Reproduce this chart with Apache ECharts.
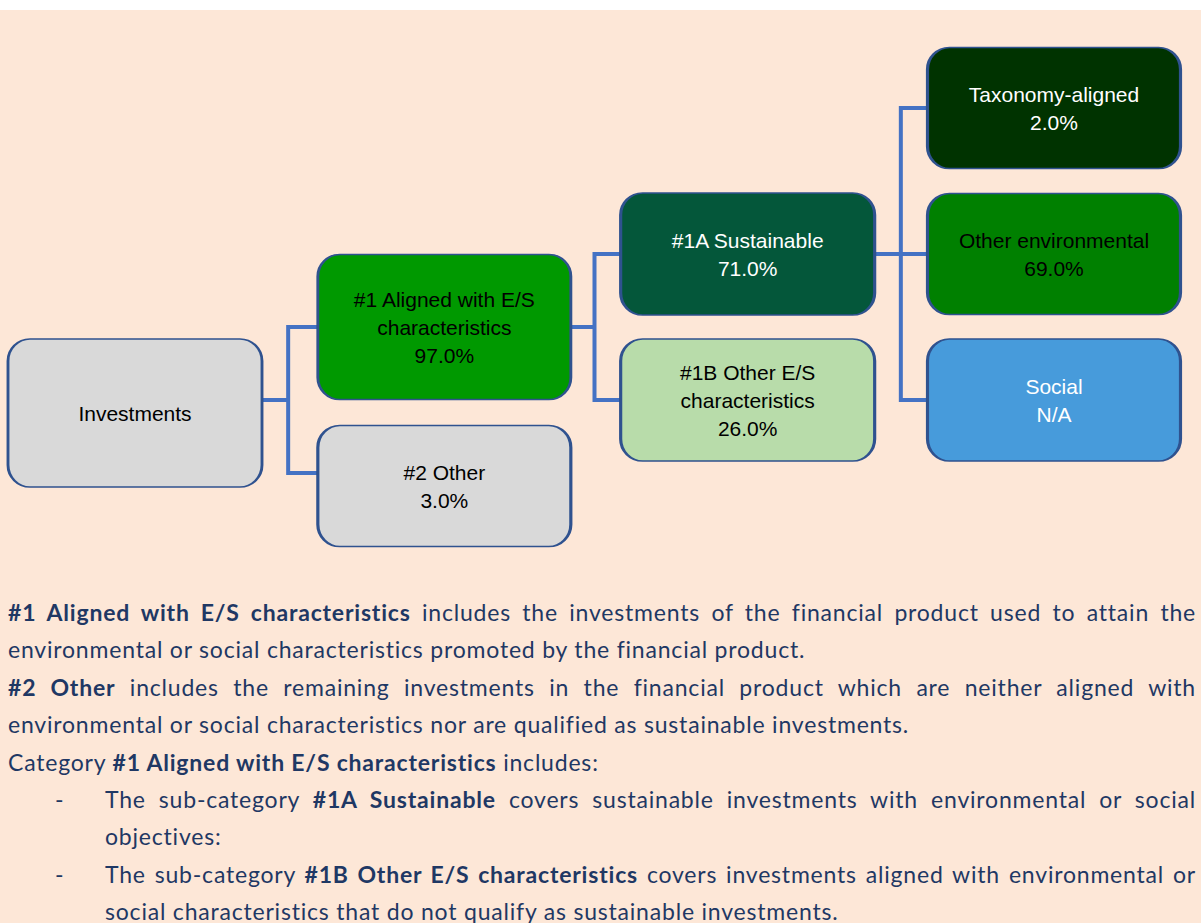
<!DOCTYPE html>
<html>
<head>
<meta charset="utf-8">
<script src="https://cdn.jsdelivr.net/npm/echarts@6/dist/echarts.min.js"></script>
<style>
  html, body { margin: 0; padding: 0; width: 1201px; height: 923px; overflow: hidden; }
  body { background: linear-gradient(#ffffff 0, #ffffff 10px, #fde7d7 10px); position: relative; }
  #chart { position: absolute; left: 0; top: 0; width: 1201px; height: 923px; }
  #notes { position: absolute; left: 8px; top: 594px; width: 1188px; font-family: Lato, "Open Sans", sans-serif;
           font-size: 23px; letter-spacing: 0.8px; line-height: 37.4px; color: #1f3864; }
  #notes .ln { white-space: nowrap; text-align: left; }
  #notes .j { white-space: normal; text-align: justify; text-align-last: justify; }
  #notes .ind { position: relative; padding-left: 97px; }
  #notes .dash { position: absolute; left: 47px; top: 0; }
</style>
</head>
<body>
<div id="chart"></div>
<div id="notes">
  <div class="ln j"><b>#1 Aligned with E/S characteristics</b> includes the investments of the financial product used to attain the</div>
  <div class="ln">environmental or social characteristics promoted by the financial product.</div>
  <div class="ln j"><b>#2 Other</b> includes the remaining investments in the financial product which are neither aligned with</div>
  <div class="ln">environmental or social characteristics nor are qualified as sustainable investments.</div>
  <div class="ln">Category <b>#1 Aligned with E/S characteristics</b> includes:</div>
  <div class="ln j ind"><span class="dash">-</span>The sub-category <b>#1A Sustainable</b> covers sustainable investments with environmental or social</div>
  <div class="ln ind">objectives:</div>
  <div class="ln j ind"><span class="dash">-</span>The sub-category <b>#1B Other E/S characteristics</b> covers investments aligned with environmental or</div>
  <div class="ln ind">social characteristics that do not qualify as sustainable investments.</div>
</div>
<script>
// ---- data ----
const nodeNames = [
  'Investments',
  '#1 Aligned with E/S\ncharacteristics',
  '#2 Other',
  '#1A Sustainable',
  '#1B Other E/S\ncharacteristics',
  'Taxonomy-aligned',
  'Other environmental',
  'Social'
];
const nodeValues = [null, 97.0, 3.0, 71.0, 26.0, 2.0, 69.0, null];   // percent; null = not shown / N/A
const nodeParents = [-1, 0, 0, 1, 1, 3, 3, 3];

// ---- styles (kept separate from data) ----
const fillColors = ['#d9d9d9', '#009900', '#d9d9d9', '#04573a', '#b8dcaa', '#003300', '#008000', '#479bdb'];
const textColors = ['#000', '#000', '#000', '#fff', '#000', '#fff', '#000', '#fff'];
const boxSizes = [[254, 148], [253, 145], [253, 121], [254, 122], [254, 122], [253, 121], [253, 121], [253, 122]];
const boxOffsets = [[0, 13], [3, 0], [3, 13], [0, 0], [0, 0], [0, 0], [0, 0], [0, 0]];

function roundRectPath(w, h, r) {
  return 'path://M' + r + ',0 H' + (w - r) + ' A' + r + ',' + r + ' 0 0 1 ' + w + ',' + r +
    ' V' + (h - r) + ' A' + r + ',' + r + ' 0 0 1 ' + (w - r) + ',' + h +
    ' H' + r + ' A' + r + ',' + r + ' 0 0 1 0,' + (h - r) +
    ' V' + r + ' A' + r + ',' + r + ' 0 0 1 ' + r + ',0 Z';
}

function labelText(i) {
  const v = nodeValues[i];
  if (v == null) return i === 0 ? nodeNames[i] : nodeNames[i] + '\nN/A';
  return nodeNames[i] + '\n' + v.toFixed(1) + '%';
}

const items = nodeNames.map(function (n, i) {
  return {
    name: n,
    value: nodeValues[i],
    symbol: roundRectPath(boxSizes[i][0], boxSizes[i][1], 22),
    symbolSize: boxSizes[i],
    symbolOffset: boxOffsets[i],
    itemStyle: { color: fillColors[i], borderColor: '#2f528f', borderWidth: 2.2 },
    label: { color: textColors[i], formatter: labelText(i) },
    children: []
  };
});
let root = null;
nodeParents.forEach(function (p, i) {
  if (p < 0) root = items[i]; else items[p].children.push(items[i]);
});

const chart = echarts.init(document.getElementById('chart'), null, { renderer: 'svg' });
chart.setOption({
  animation: false,
  series: [{
    type: 'tree',
    data: [root],
    orient: 'LR',
    left: 135,
    right: 147,
    top: -38,
    bottom: 304,
    edgeShape: 'polyline',
    edgeForkPosition: '50%',
    initialTreeDepth: -1,
    expandAndCollapse: false,
    roam: false,
    lineStyle: { color: '#4472c4', width: 4, curveness: 0 },
    label: {
      position: 'inside',
      fontFamily: '"Liberation Sans", Arial, sans-serif',
      fontSize: 21,
      lineHeight: 28,
      align: 'center',
      verticalAlign: 'middle'
    },
    leaves: { label: { position: 'inside', align: 'center', verticalAlign: 'middle' } },
    emphasis: { disabled: true }
  }]
});
</script>
</body>
</html>
